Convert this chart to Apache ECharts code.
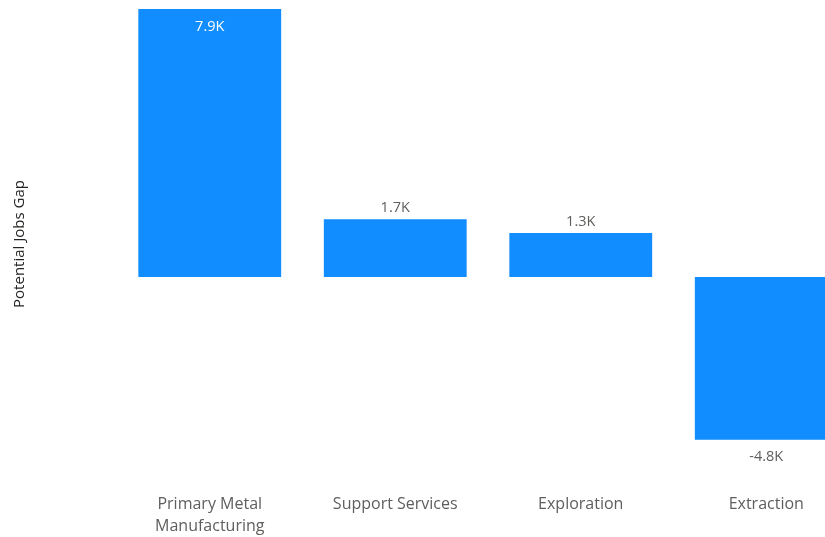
<!DOCTYPE html>
<html>
<head>
<meta charset="utf-8">
<style>
  html, body { margin: 0; padding: 0; background: #ffffff; }
  #chart { width: 825px; height: 537px; }
</style>
<script src="https://cdn.jsdelivr.net/npm/echarts@6/dist/echarts.min.js"></script>
</head>
<body>
<div id="chart"></div>
<script>
// Potential jobs gap by mining sub-sector
const categories = ['Primary Metal\nManufacturing', 'Support Services', 'Exploration', 'Extraction'];
const jobsGap = [7900, 1700, 1300, -4800];
const axisTitle = 'Potential Jobs Gap';

const fmtK = v => (v / 1000).toFixed(1) + 'K';

const seriesData = jobsGap.map((v, i) => {
  const item = { value: v };
  if (i === 0) {
    item.label = { position: 'insideTop', distance: 10, color: '#ffffff' };
  } else if (v < 0) {
    item.label = { position: 'bottom', distance: 10 };
  }
  return item;
});

const chart = echarts.init(document.getElementById('chart'), null, { renderer: 'canvas' });
chart.setOption({
  animation: false,
  backgroundColor: '#ffffff',
  grid: {
    left: 117, top: 5.6, right: -34, height: 441,
    containLabel: false,
    outerBoundsMode: 'none'
  },
  xAxis: {
    type: 'category',
    data: categories,
    axisLine: { show: false, onZero: false },
    axisTick: { show: false },
    axisLabel: {
      margin: 47,
      color: '#605E5C',
      fontFamily: 'Open Sans',
      fontSize: 16,
      lineHeight: 22,
      interval: 0
    }
  },
  yAxis: {
    type: 'value',
    min: -5000,
    max: 8000,
    axisLine: { show: false },
    axisTick: { show: false },
    axisLabel: { show: false },
    splitLine: { show: false }
  },
  graphic: [{
    type: 'text',
    x: 20,
    y: 244,
    rotation: Math.PI / 2,
    style: {
      text: axisTitle,
      fill: '#252423',
      font: '15px "Open Sans"',
      align: 'center',
      verticalAlign: 'middle'
    }
  }],
  series: [{
    type: 'bar',
    data: seriesData,
    barCategoryGap: '23%',
    itemStyle: { color: '#118DFF' },
    label: {
      show: true,
      position: 'top',
      distance: 4,
      color: '#605E5C',
      fontFamily: 'Open Sans',
      fontSize: 14.5,
      formatter: p => fmtK(p.value)
    }
  }]
});
</script>
</body>
</html>
